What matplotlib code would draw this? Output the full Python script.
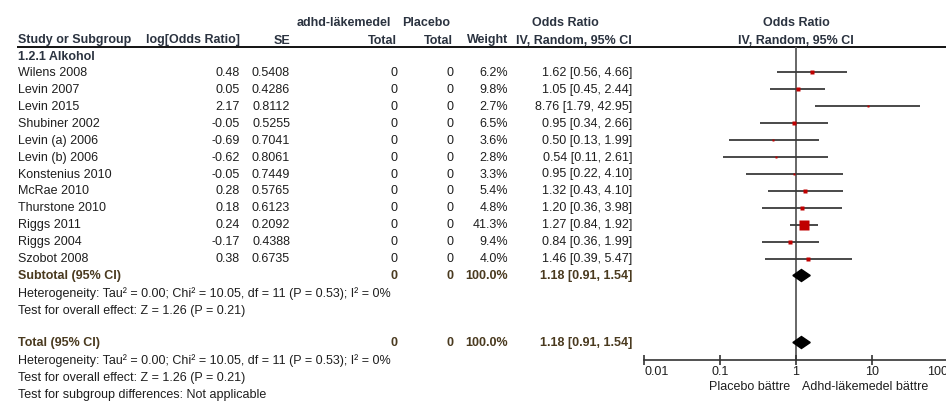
import matplotlib
matplotlib.use("Agg")
import matplotlib.pyplot as plt
import numpy as np

plt.rcParams['font.family'] = ['Liberation Sans', 'DejaVu Sans']

studies = ["Wilens 2008", "Levin 2007", "Levin 2015", "Shubiner 2002", "Levin (a) 2006",
           "Levin (b) 2006", "Konstenius 2010", "McRae 2010", "Thurstone 2010",
           "Riggs 2011", "Riggs 2004", "Szobot 2008"]
log_or = [0.48, 0.05, 2.17, -0.05, -0.69, -0.62, -0.05, 0.28, 0.18, 0.24, -0.17, 0.38]
se = [0.5408, 0.4286, 0.8112, 0.5255, 0.7041, 0.8061, 0.7449, 0.5765, 0.6123, 0.2092, 0.4388, 0.6735]
total_treat = [0] * 12
total_ctrl = [0] * 12
weight = [6.2, 9.8, 2.7, 6.5, 3.6, 2.8, 3.3, 5.4, 4.8, 41.3, 9.4, 4.0]
or_est = [1.62, 1.05, 8.76, 0.95, 0.50, 0.54, 0.95, 1.32, 1.20, 1.27, 0.84, 1.46]
ci_lo = [0.56, 0.45, 1.79, 0.34, 0.13, 0.11, 0.22, 0.43, 0.36, 0.84, 0.36, 0.39]
ci_hi = [4.66, 2.44, 42.95, 2.66, 1.99, 2.61, 4.10, 4.10, 3.98, 1.92, 1.99, 5.47]
pooled = (1.18, 0.91, 1.54)
pooled_weight = 100.0
x_ticks = [0.01, 0.1, 1, 10, 100]
x_ticklabels = ["0.01", "0.1", "1", "10", "100"]

W, H = 946, 401
fig = plt.figure(figsize=(W / 100, H / 100), dpi=100)
ax = fig.add_axes([0, 0, 1, 1])
ax.set_xlim(0, W)
ax.set_ylim(H, 0)
ax.axis('off')

FS = 9.0
txt = '#1e1e1e'
hdr = '#2b3340'
tot = '#4a3a1f'
VA = 'center_baseline'


def t(x, y, s, ha='left', bold=False, color=txt):
    ax.text(x, y - 1, s, ha=ha, va=VA, fontsize=FS, fontweight='bold' if bold else 'normal', color=color)


# header
t(297, 22, "adhd-läkemedel", bold=True, color=hdr)
t(402, 22, "Placebo", bold=True, color=hdr)
t(565, 22, "Odds Ratio", ha='center', bold=True, color=hdr)
t(796, 22, "Odds Ratio", ha='center', bold=True, color=hdr)
yh = 40
t(18, yh, "Study or Subgroup", bold=True, color=hdr)
t(240, yh, "log[Odds Ratio]", ha='right', bold=True, color=hdr)
t(290, yh, "SE", ha='right', bold=True, color=hdr)
t(397, yh, "Total", ha='right', bold=True, color=hdr)
t(453, yh, "Total", ha='right', bold=True, color=hdr)
t(508, yh, "Weight", ha='right', bold=True, color=hdr)
t(632, yh, "IV, Random, 95% CI", ha='right', bold=True, color=hdr)
t(796, yh, "IV, Random, 95% CI", ha='center', bold=True, color=hdr)
ax.hlines(47, 17, W, color='black', lw=1.3)
t(18, 56, "1.2.1 Alkohol", bold=True, color=hdr)

y0, dy = 72.3, 16.95
ys = [y0 + dy * i for i in range(len(studies))]
for i, y in enumerate(ys):
    t(18, y, studies[i])
    t(240, y, f"{log_or[i]:.2f}", ha='right')
    t(290, y, f"{se[i]:.4f}", ha='right')
    t(397, y, f"{total_treat[i]}", ha='right')
    t(453, y, f"{total_ctrl[i]}", ha='right')
    t(508, y, f"{weight[i]:.1f}%", ha='right')
    t(632, y, f"{or_est[i]:.2f} [{ci_lo[i]:.2f}, {ci_hi[i]:.2f}]", ha='right')

y_sub = 275.5
y_tot = 342.5
het = "Heterogeneity: Tau² = 0.00; Chi² = 10.05, df = 11 (P = 0.53); I² = 0%"
eff = "Test for overall effect: Z = 1.26 (P = 0.21)"
for yy, label in [(y_sub, "Subtotal (95% CI)"), (y_tot, "Total (95% CI)")]:
    t(18, yy, label, bold=True, color=tot)
    t(397, yy, f"{sum(total_treat)}", ha='right', bold=True, color=tot)
    t(453, yy, f"{sum(total_ctrl)}", ha='right', bold=True, color=tot)
    t(508, yy, f"{pooled_weight:.1f}%", ha='right', bold=True, color=tot)
    t(632, yy, f"{pooled[0]:.2f} [{pooled[1]:.2f}, {pooled[2]:.2f}]", ha='right', bold=True, color=tot)
    t(18, yy + 18, het)
    t(18, yy + 35, eff)
t(18, y_tot + 52, "Test for subgroup differences: Not applicable")

# forest plot
x0, x1 = 644, 948
ax2 = fig.add_axes([x0 / W, 0, (x1 - x0) / W, 1])
ax2.patch.set_alpha(0)
ax2.set_xscale('log')
ax2.set_xlim(0.01, 100)
ax2.set_ylim(H, 0)
for s in ['left', 'right', 'top']:
    ax2.spines[s].set_visible(False)
ax2.spines['bottom'].set_position(('data', 359.5))
ax2.spines['bottom'].set_color('#333333')
ax2.spines['bottom'].set_linewidth(1.2)
ax2.set_yticks([])
ax2.set_xticks(x_ticks)
ax2.set_xticklabels(x_ticklabels)
ax2.xaxis.set_minor_locator(matplotlib.ticker.NullLocator())
ax2.tick_params(axis='x', direction='inout', length=7, width=1.2, colors='#333333',
                labelsize=FS, pad=1, labelcolor=txt)
labs = ax2.get_xticklabels()
labs[0].set_horizontalalignment('left')
labs[-1].set_horizontalalignment('right')

ax2.vlines(1, 47, 359.5, color='#5a5a5a', lw=1.3, zorder=1)
sq = np.sqrt(np.array(weight) / max(weight)) * 7.3
for i, y in enumerate(ys):
    ax2.hlines(y, ci_lo[i], ci_hi[i], color='#3a3a3a', lw=1.3, zorder=2)
    ax2.plot([or_est[i]], [y], marker='s', ms=sq[i], mec='none', color='#c00000', zorder=3)

for yy in [y_sub, y_tot]:
    ax2.fill([pooled[1], pooled[0], pooled[2], pooled[0]], [yy, yy - 6, yy, yy + 6],
             color='black', zorder=3)

t(790, 386, "Placebo bättre", ha='right')
t(802, 386, "Adhd-läkemedel bättre")

fig.savefig("out.png", dpi=100)
